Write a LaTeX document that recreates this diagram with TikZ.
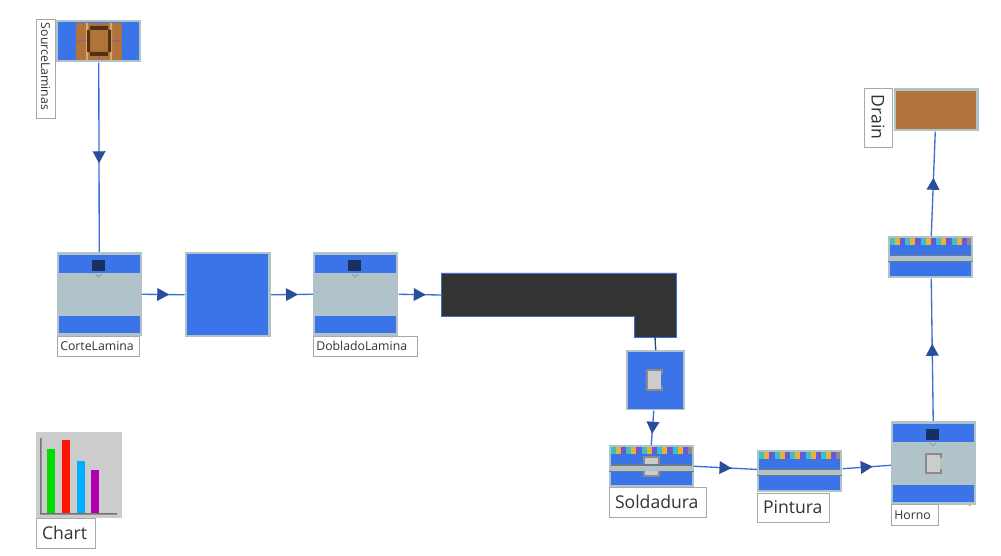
\documentclass[tikz,border=0pt]{standalone}
\usepackage{fontspec}
\setmainfont{Open Sans}
\usetikzlibrary{arrows.meta,decorations.markings}
\definecolor{procblue}{HTML}{3B74E8}
\definecolor{framegray}{HTML}{B0C3C9}
\definecolor{tipblue}{HTML}{2A4E9C}
\definecolor{linkblue}{HTML}{3A6FD8}
\definecolor{navy}{HTML}{163060}
\definecolor{wood}{HTML}{B0743A}
\definecolor{woodlight}{HTML}{D8A878}
\definecolor{wooddark}{HTML}{55320F}
\definecolor{slot}{HTML}{CCCCCC}
\definecolor{slotedge}{HTML}{8A8A8A}
\definecolor{band}{HTML}{6E7A80}
\definecolor{labeledge}{HTML}{A8A8A8}
\definecolor{labeltext}{HTML}{333333}
\definecolor{teal}{HTML}{3CC0C8}
\definecolor{amber}{HTML}{EDB030}
\definecolor{violet}{HTML}{6A58D8}
\definecolor{barpurple}{HTML}{B000B0}
\definecolor{barblue}{HTML}{00AEFF}
\definecolor{bargreen}{HTML}{00DD00}
\definecolor{barred}{HTML}{FF1500}
\tikzset{
  block/.style n args={2}{fill=framegray, draw=none, inner sep=0pt,
    minimum width=#1*.75pt, minimum height=#2*.75pt},
  tag/.style n args={4}{fill=white, draw=labeledge, line width=.6pt, text=labeltext,
    inner xsep=#4, inner ysep=0pt, align=left, font=\fontsize{#3}{#3}\selectfont,
    minimum width=#1*.75pt, minimum height=#2*.75pt, text width=#1*.75pt-2*#4},
  link/.style={draw=linkblue, line width=1pt},
  midtip/.style={postaction={decorate}, decoration={markings,
    mark=at position .5 with {\arrow[xshift=4.5pt]{Triangle[length=9pt,width=9.5pt,fill=tipblue,color=tipblue]}}}}
}
% A machine body: blue top and bottom panels, status lamp and chevron
\newcommand{\machinebody}[3]{%
  \node[block={85}{84}, anchor=north west] (#1) at (#2,#3) {};
  \begin{scope}[shift={(#2,#3)}]
    \fill[procblue] (2,3) rectangle (83,21);
    \fill[procblue] (2,64) rectangle (83,81);
    \fill[navy] (35,8) rectangle (48,19);
    \draw[slotedge, line width=.3pt] (39,22) -- (42,25) -- (45,22);
  \end{scope}}
% A gray pallet window with a notch on its right side
\newcommand{\slotwindow}[5]{%
  \fill[slotedge] (#1,#2) rectangle (#3,#4);
  \fill[slot] ({#1+2},{#2+2}) rectangle ({#3-2},{#4-2});
  \fill[#5] ({#3-2},{#2+5}) rectangle (#3,{#4-5});}
% A conveyor body: coloured cells over a blue deck, a gray rail and a lower deck
\newcommand{\conveyorbody}[3]{%
  \node[block={85}{42}, anchor=north west] (#1) at (#2,#3) {};
  \begin{scope}[shift={(#2,#3)}]
    \fill[procblue] (2,2) rectangle (83,19);
    \foreach \cx in {2,17.5,33,48.5,64}{
      \fill[teal] (\cx,2) rectangle +(5,7);
      \fill[amber] ({\cx+5},2) rectangle +(5,7);
      \fill[violet] ({\cx+10},2) rectangle +(5,7);
    }
    \fill[slotedge] (79,2) rectangle (83,9);
    \fill[band] (2,19) rectangle (83,20.5);
    \fill[band] (0,25.5) rectangle (85,26.5);
    \fill[procblue] (2,26.5) rectangle (83,40);
  \end{scope}}
\begin{document}
\begin{tikzpicture}[x=.75pt,y=-.75pt]
\useasboundingbox (0,0) rectangle (1001,556);

% Source of sheets
\node[block={85}{42}, anchor=north west] (source) at (56,20) {};
\fill[procblue] (58,22) rectangle (139,60);
\fill[wood] (76,23) rectangle (122,60);
\fill[woodlight] (86,23) rectangle (88,60) (110,23) rectangle (112,60);
\fill[wooddark] (90,26) rectangle (108,30) (90,52) rectangle (108,56)
                (87,30) rectangle (90,52) (108,30) rectangle (111,52);
\fill[violet!70!wood] (76,40.5) rectangle (86,41.5) (112,40.5) rectangle (122,41.5)
                (98.5,23) rectangle (99.5,26) (98.5,56) rectangle (99.5,60);
\node[tag={99}{19}{9.2}{3pt}, rotate=-90] (sourcetag) at (45.5,68.5) {SourceLaminas};

% Cutting and bending stations
\machinebody{corte}{56.5}{252}
\node[tag={82}{20}{9.2}{2.5pt}] (cortetag) at (98,346) {CorteLamina};
\node[block={86}{85}, anchor=north west] (buffer) at (184.5,252) {};
\fill[procblue] (186.5,254) rectangle (268,335);
\machinebody{doblado}{313}{252}
\node[tag={104}{20}{9.2}{2.5pt}] (dobladotag) at (365,346) {DobladoLamina};

% L-shaped dark conveyor
\coordinate (convin) at (441,295);
\coordinate (convout) at (655,337);
\filldraw[fill=black!80, draw=linkblue, line width=.5pt]
  (441,273) -- (676,273) -- (676,337) -- (634,337) -- (634,316) -- (441,316) -- cycle;

% Transfer station above the welding line
\node[block={59}{60}, anchor=north west] (station) at (626,350) {};
\fill[procblue] (628,352) rectangle (683,409);
\slotwindow{646}{369}{663}{391}{procblue}

% Welding, painting and oven
\conveyorbody{soldadura}{608.5}{445}
\fill[slotedge] (643,456) rectangle (660,464);
\fill[slot] (645,458) rectangle (658,464);
\fill[slotedge] (643,471) rectangle (660,477);
\fill[slot] (645,471) rectangle (658,475);
\node[tag={97}{30}{13.2}{4.5pt}] (soldaduratag) at (657.5,502) {Soldadura};
\conveyorbody{pintura}{757}{449.5}
\node[tag={72}{29}{13.2}{4.5pt}] (pinturatag) at (793,507.5) {Pintura};
\machinebody{horno}{891}{421}
\slotwindow{925}{453}{942}{474}{framegray}
\node[tag={47}{21}{9.2}{2.5pt}] (hornotag) at (914.5,515) {Horno};
\conveyorbody{salida}{887.5}{236}

% Sink of finished parts
\node[block={85}{43}, anchor=north west] (drain) at (893.5,88) {};
\fill[wood] (895.5,91) rectangle (976,129);
\node[tag={59}{28}{13.2}{5pt}, rotate=-90] (draintag) at (878,117.5) {Drain};

% Small status dots
\fill[amber] (133.5,335.5) rectangle (135.5,337.5) (390.5,335.5) rectangle (392.5,337.5)
             (968.5,504) rectangle (970.5,506);

% Statistics chart
\node[block={86}{86}, fill=slot, anchor=north west] (chart) at (36,432) {};
\fill[black!55] (40,438) rectangle (41.5,514.5) (40,513) rectangle (117,514.5);
\fill[bargreen] (47,449) rectangle (55,513);
\fill[barred] (62,440) rectangle (70,513);
\fill[barblue] (77,461) rectangle (85,513);
\fill[barpurple] (91,470) rectangle (99,513);
\node[tag={59}{30}{13.2}{4.5pt}] (charttag) at (65.5,533) {Chart};

% Material flow
\draw[link, midtip] (source.south) -- (corte.north);
\draw[link, midtip] (corte.east) -- (buffer.west);
\draw[link, midtip] (buffer.east) -- (doblado.west);
\draw[link, midtip] (doblado.east) -- (convin);
\draw[draw=black!40!linkblue, line width=1pt] (convout) -- (station.north);
\draw[link, midtip] ([xshift=-1.5pt]station.south) -- (soldadura.north);
\draw[link, midtip] (soldadura.east) -- ([yshift=1pt]pintura.west);
\draw[link, midtip] ([yshift=1.5pt]pintura.east) -- ([yshift=-1.5pt]horno.west);
\draw[link, midtip] ([xshift=-.4pt]horno.north) -- ([xshift=.75pt]salida.south);
\draw[link, midtip] ([xshift=.75pt]salida.north) -- ([xshift=-.75pt]drain.south);
\end{tikzpicture}
\end{document}
